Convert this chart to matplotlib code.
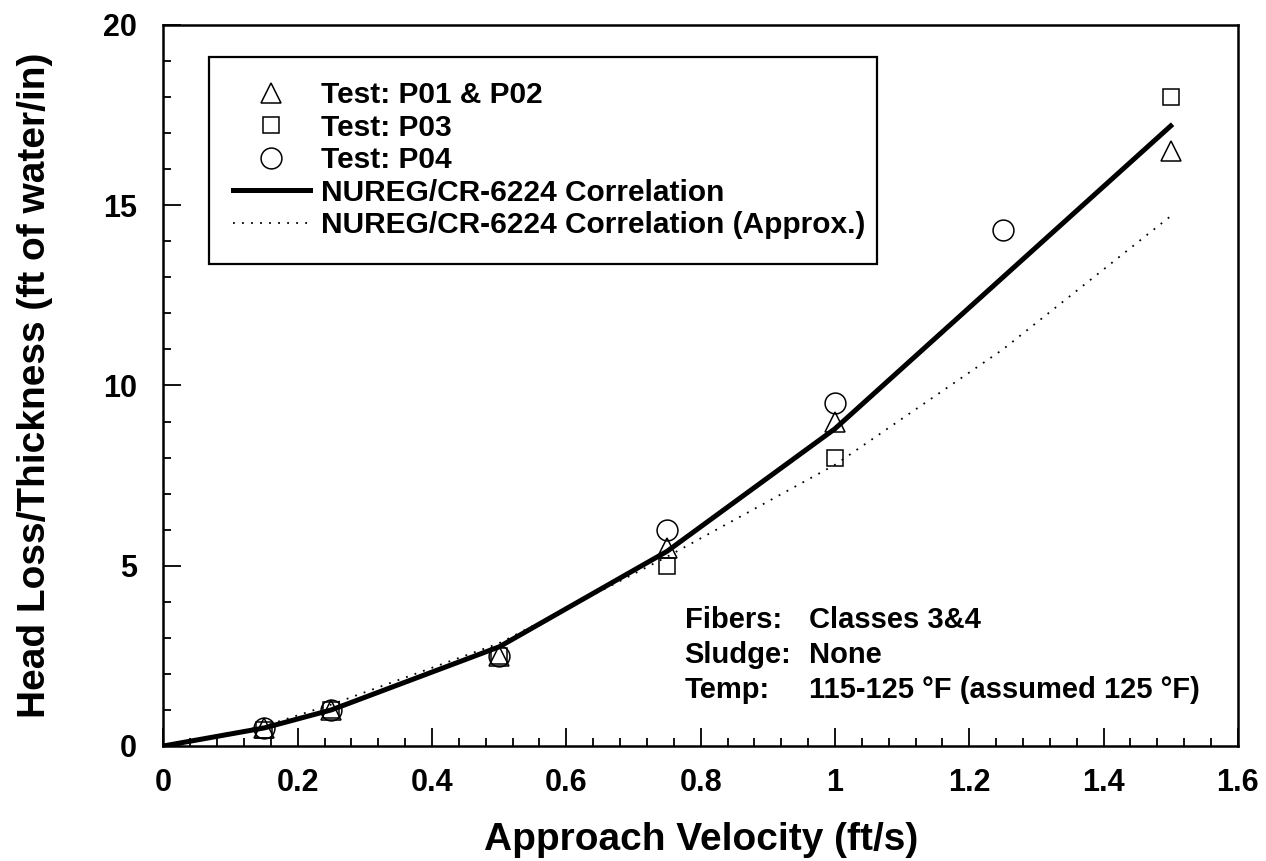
import matplotlib
matplotlib.use("Agg")
import matplotlib.pyplot as plt
from matplotlib.ticker import MultipleLocator

plt.rcParams['font.family'] = ['Liberation Sans', 'DejaVu Sans']
plt.rcParams['font.weight'] = 'bold'

# ---- data ----
p0102_x = [0.15, 0.25, 0.5, 0.75, 1.0, 1.5]
p0102_y = [0.5, 1.0, 2.5, 5.5, 9.0, 16.5]

p03_x = [0.15, 0.25, 0.5, 0.75, 1.0, 1.5]
p03_y = [0.45, 1.0, 2.5, 5.0, 8.0, 18.0]

p04_x = [0.15, 0.25, 0.5, 0.75, 1.0, 1.25]
p04_y = [0.5, 1.0, 2.5, 6.0, 9.5, 14.3]

corr_x = [0, 0.15, 0.25, 0.5, 0.75, 1.0, 1.25, 1.5]
corr_y = [0, 0.5, 1.0, 2.75, 5.4, 8.8, 13.0, 17.2]

approx_x = [0, 0.15, 0.25, 0.5, 0.75, 1.0, 1.25, 1.5]
approx_y = [0, 0.55, 1.15, 2.85, 5.25, 7.8, 11.0, 14.7]

legend_labels = ["Test: P01 & P02", "Test: P03", "Test: P04",
                 "NUREG/CR-6224 Correlation",
                 "NUREG/CR-6224 Correlation (Approx.)"]
note_keys = ["Fibers:", "Sludge:", "Temp:"]
note_vals = ["Classes 3&4", "None", "115-125 \u00b0F (assumed 125 \u00b0F)"]
xticks = [0, 0.2, 0.4, 0.6, 0.8, 1.0, 1.2, 1.4, 1.6]
xticklabels = ["0", "0.2", "0.4", "0.6", "0.8", "1", "1.2", "1.4", "1.6"]
yticks = [0, 5, 10, 15, 20]

fig = plt.figure(figsize=(12.66, 8.61), dpi=100)
ax = fig.add_axes([0.1291, 0.1336, 0.8487, 0.8374])

mk = dict(linestyle='none', markerfacecolor='none', markeredgecolor='black',
          markeredgewidth=1.1)
h1, = ax.plot(p0102_x, p0102_y, marker='^', markersize=14, label=legend_labels[0], zorder=4, **mk)
h2, = ax.plot(p03_x, p03_y, marker='s', markersize=11.5, label=legend_labels[1], zorder=4, **mk)
h3, = ax.plot(p04_x, p04_y, marker='o', markersize=15, label=legend_labels[2], zorder=4, **mk)
h4, = ax.plot(corr_x, corr_y, color='black', linewidth=3.6, label=legend_labels[3], zorder=3,
              solid_joinstyle='round')
h5, = ax.plot(approx_x, approx_y, color='black', linewidth=1.3, linestyle=(0, (1, 4)),
              label=legend_labels[4], zorder=2)

ax.set_xlim(0, 1.6)
ax.set_ylim(0, 20)
ax.set_xticks(xticks)
ax.set_xticklabels(xticklabels)
ax.set_yticks(yticks)
ax.xaxis.set_minor_locator(MultipleLocator(0.04))
ax.yaxis.set_minor_locator(MultipleLocator(1))
ax.tick_params(which='both', direction='in', top=False, right=False, width=1.3)
ax.tick_params(which='major', length=13)
ax.tick_params(which='minor', length=6)
ax.tick_params(axis='x', which='major', labelsize=22, pad=16)
ax.tick_params(axis='y', which='major', labelsize=22, pad=19)
for lab in ax.get_xticklabels() + ax.get_yticklabels():
    lab.set_fontweight('bold')
for s in ax.spines.values():
    s.set_linewidth(1.8)

ax.set_xlabel("Approach Velocity (ft/s)", fontsize=28, fontweight='bold', labelpad=17)
ax.set_ylabel("Head Loss/Thickness (ft of water/in)", fontsize=28, fontweight='bold', labelpad=36)

leg = ax.legend(handles=[h1, h2, h3, h4, h5], loc='upper left',
                bbox_to_anchor=(0.0423, 0.9556, 0.6217, 0.0), mode='expand',
                borderaxespad=0, prop={'size': 21.5, 'weight': 'bold'}, frameon=True,
                fancybox=False, edgecolor='black', framealpha=1, handlelength=2.55,
                handletextpad=0.4, labelspacing=0.15, borderpad=0.82)
leg.get_frame().set_linewidth(1.6)

key_x = 0.776
val_x = 0.962
note_y = [3.5, 2.52, 1.55]
for k, v, yy in zip(note_keys, note_vals, note_y):
    ax.text(key_x, yy, k, fontsize=21, fontweight='bold', va='center', ha='left')
    ax.text(val_x, yy, v, fontsize=21, fontweight='bold', va='center', ha='left')

fig.savefig("out.png", dpi=100, facecolor='white')
